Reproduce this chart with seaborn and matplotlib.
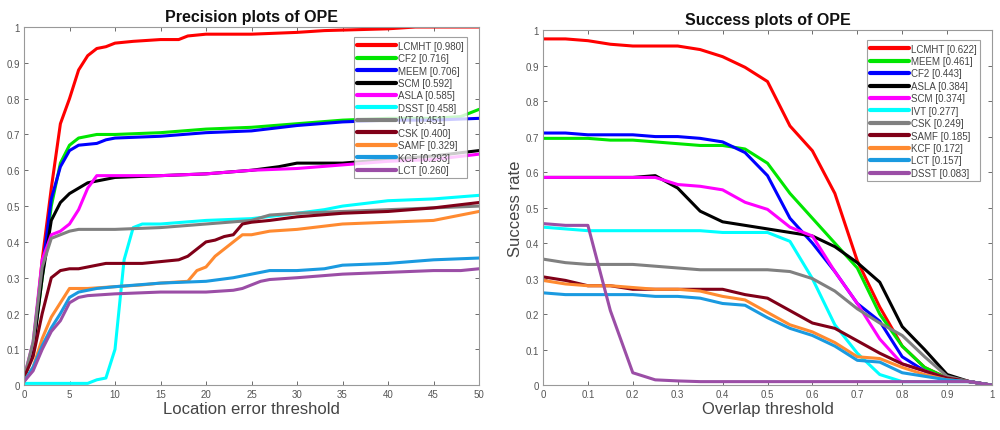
import numpy as np
import pandas as pd
import seaborn as sns
import matplotlib
matplotlib.use("Agg")
import matplotlib.pyplot as plt
from matplotlib.ticker import FuncFormatter

# ---- precision plot data (location error threshold 0..50) ----
prec_names = ["LCMHT", "CF2", "MEEM", "SCM", "ASLA", "DSST", "IVT", "CSK", "SAMF", "KCF", "LCT"]
prec_scores = ["0.980", "0.716", "0.706", "0.592", "0.585", "0.458", "0.451", "0.400", "0.329", "0.293", "0.260"]

prec_x_lcmht = [0, 1, 2, 3, 4, 5, 6, 7, 8, 9, 10, 12, 15, 17, 18, 20, 25, 30, 33, 40, 43, 50]
prec_y_lcmht = [0.02, 0.1, 0.35, 0.55, 0.73, 0.80, 0.88, 0.92, 0.94, 0.945, 0.955, 0.96, 0.965, 0.965, 0.975, 0.98, 0.98, 0.985, 0.99, 0.995, 1.0, 1.0]
prec_x_cf2 = [0, 1, 2, 3, 4, 5, 6, 7, 8, 10, 15, 20, 25, 30, 35, 40, 45, 48, 50]
prec_y_cf2 = [0.02, 0.1, 0.3, 0.5, 0.62, 0.67, 0.69, 0.695, 0.70, 0.70, 0.705, 0.715, 0.72, 0.73, 0.74, 0.745, 0.745, 0.75, 0.77]
prec_x_meem = [0, 1, 2, 3, 4, 5, 6, 8, 9, 10, 15, 20, 25, 30, 35, 40, 45, 50]
prec_y_meem = [0.02, 0.1, 0.32, 0.52, 0.61, 0.655, 0.67, 0.675, 0.685, 0.69, 0.695, 0.705, 0.71, 0.725, 0.735, 0.74, 0.74, 0.745]
prec_x_scm = [0, 1, 2, 3, 4, 5, 6, 7, 8, 9, 10, 15, 20, 25, 28, 30, 35, 40, 45, 50]
prec_y_scm = [0.02, 0.1, 0.3, 0.46, 0.51, 0.535, 0.55, 0.565, 0.57, 0.575, 0.58, 0.585, 0.59, 0.60, 0.61, 0.62, 0.62, 0.63, 0.64, 0.655]
prec_x_asla = [0, 1, 2, 3, 4, 5, 6, 7, 8, 10, 15, 20, 25, 30, 35, 40, 45, 50]
prec_y_asla = [0.02, 0.12, 0.35, 0.42, 0.43, 0.45, 0.49, 0.55, 0.585, 0.585, 0.585, 0.59, 0.60, 0.605, 0.615, 0.625, 0.63, 0.645]
prec_x_dsst = [0, 7, 8, 9, 10, 11, 12, 13, 15, 20, 25, 30, 33, 35, 40, 45, 50]
prec_y_dsst = [0.005, 0.005, 0.015, 0.02, 0.1, 0.35, 0.44, 0.45, 0.45, 0.46, 0.465, 0.48, 0.49, 0.50, 0.515, 0.52, 0.53]
prec_x_ivt = [0, 1, 2, 3, 4, 5, 6, 10, 15, 20, 25, 27, 30, 35, 40, 45, 50]
prec_y_ivt = [0.02, 0.12, 0.33, 0.41, 0.42, 0.43, 0.435, 0.435, 0.44, 0.45, 0.46, 0.475, 0.48, 0.485, 0.49, 0.495, 0.50]
prec_x_csk = [0, 1, 2, 3, 4, 5, 6, 7, 8, 9, 13, 15, 17, 18, 19, 20, 21, 22, 23, 24, 25, 27, 30, 35, 40, 45, 50]
prec_y_csk = [0.02, 0.08, 0.2, 0.3, 0.32, 0.325, 0.325, 0.33, 0.335, 0.34, 0.34, 0.345, 0.35, 0.36, 0.38, 0.40, 0.405, 0.415, 0.42, 0.45, 0.455, 0.46, 0.47, 0.48, 0.485, 0.495, 0.51]
prec_x_samf = [0, 1, 2, 3, 4, 5, 7, 10, 13, 15, 18, 19, 20, 21, 22, 23, 24, 25, 27, 30, 35, 40, 45, 47, 50]
prec_y_samf = [0.01, 0.05, 0.13, 0.19, 0.23, 0.27, 0.27, 0.275, 0.28, 0.285, 0.29, 0.32, 0.33, 0.36, 0.38, 0.40, 0.42, 0.42, 0.43, 0.435, 0.45, 0.455, 0.46, 0.47, 0.485]
prec_x_kcf = [0, 1, 2, 3, 4, 5, 6, 7, 8, 10, 15, 20, 23, 25, 27, 30, 33, 35, 40, 45, 50]
prec_y_kcf = [0.01, 0.05, 0.11, 0.16, 0.2, 0.245, 0.26, 0.265, 0.27, 0.275, 0.285, 0.29, 0.30, 0.31, 0.32, 0.32, 0.325, 0.335, 0.34, 0.35, 0.355]
prec_x_lct = [0, 1, 2, 3, 4, 5, 6, 7, 10, 15, 20, 23, 24, 26, 27, 30, 35, 40, 45, 48, 50]
prec_y_lct = [0.01, 0.04, 0.1, 0.15, 0.18, 0.23, 0.245, 0.25, 0.255, 0.26, 0.26, 0.265, 0.27, 0.29, 0.295, 0.30, 0.31, 0.315, 0.32, 0.32, 0.325]

# ---- success plot data (overlap threshold 0..1) ----
succ_names = ["LCMHT", "MEEM", "CF2", "ASLA", "SCM", "IVT", "CSK", "SAMF", "KCF", "LCT", "DSST"]
succ_scores = ["0.622", "0.461", "0.443", "0.384", "0.374", "0.277", "0.249", "0.185", "0.172", "0.157", "0.083"]

succ_x = [0, 0.05, 0.1, 0.15, 0.2, 0.25, 0.3, 0.35, 0.4, 0.45, 0.5, 0.55, 0.6, 0.65, 0.7, 0.75, 0.8, 0.85, 0.9, 0.95, 1.0]
succ_y_lcmht = [0.975, 0.975, 0.97, 0.96, 0.955, 0.955, 0.955, 0.945, 0.925, 0.895, 0.855, 0.73, 0.66, 0.54, 0.35, 0.22, 0.11, 0.05, 0.02, 0.01, 0.0]
succ_y_meem = [0.695, 0.695, 0.695, 0.69, 0.69, 0.685, 0.68, 0.675, 0.675, 0.665, 0.625, 0.54, 0.47, 0.40, 0.33, 0.20, 0.11, 0.05, 0.02, 0.01, 0.0]
succ_y_cf2 = [0.71, 0.71, 0.705, 0.705, 0.705, 0.70, 0.70, 0.695, 0.685, 0.655, 0.59, 0.47, 0.40, 0.32, 0.23, 0.18, 0.08, 0.04, 0.015, 0.01, 0.0]
succ_y_asla = [0.585, 0.585, 0.585, 0.585, 0.585, 0.59, 0.555, 0.49, 0.46, 0.45, 0.44, 0.43, 0.42, 0.39, 0.345, 0.29, 0.165, 0.10, 0.03, 0.01, 0.0]
succ_y_scm = [0.585, 0.585, 0.585, 0.585, 0.585, 0.585, 0.565, 0.56, 0.55, 0.515, 0.495, 0.445, 0.42, 0.32, 0.23, 0.13, 0.06, 0.04, 0.02, 0.01, 0.0]
succ_y_ivt = [0.445, 0.44, 0.435, 0.435, 0.435, 0.435, 0.435, 0.435, 0.43, 0.43, 0.43, 0.405, 0.30, 0.17, 0.09, 0.03, 0.01, 0.01, 0.01, 0.01, 0.0]
succ_y_csk = [0.355, 0.345, 0.34, 0.34, 0.34, 0.335, 0.33, 0.325, 0.325, 0.325, 0.325, 0.32, 0.30, 0.265, 0.215, 0.175, 0.14, 0.08, 0.025, 0.01, 0.0]
succ_y_samf = [0.305, 0.295, 0.28, 0.28, 0.27, 0.27, 0.27, 0.27, 0.27, 0.255, 0.245, 0.21, 0.175, 0.16, 0.125, 0.09, 0.06, 0.04, 0.02, 0.01, 0.0]
succ_y_kcf = [0.295, 0.285, 0.28, 0.28, 0.275, 0.27, 0.27, 0.265, 0.25, 0.24, 0.205, 0.17, 0.15, 0.12, 0.08, 0.075, 0.05, 0.03, 0.015, 0.01, 0.0]
succ_y_lct = [0.26, 0.255, 0.255, 0.255, 0.255, 0.25, 0.25, 0.245, 0.23, 0.225, 0.19, 0.16, 0.14, 0.11, 0.07, 0.065, 0.035, 0.025, 0.015, 0.01, 0.0]
succ_y_dsst = [0.455, 0.45, 0.45, 0.21, 0.035, 0.015, 0.012, 0.01, 0.01, 0.01, 0.01, 0.01, 0.01, 0.01, 0.01, 0.01, 0.01, 0.01, 0.01, 0.01, 0.0]

# colours by legend rank (same in both panels)
rank_colors = ["#ff0000", "#00e600", "#0000ff", "#000000", "#ff00ff", "#00ffff",
               "#808080", "#800018", "#ff8a30", "#1a9ae0", "#9b4ea6"]

prec_xs = [prec_x_lcmht, prec_x_cf2, prec_x_meem, prec_x_scm, prec_x_asla, prec_x_dsst,
           prec_x_ivt, prec_x_csk, prec_x_samf, prec_x_kcf, prec_x_lct]
prec_ys = [prec_y_lcmht, prec_y_cf2, prec_y_meem, prec_y_scm, prec_y_asla, prec_y_dsst,
           prec_y_ivt, prec_y_csk, prec_y_samf, prec_y_kcf, prec_y_lct]
succ_ys = [succ_y_lcmht, succ_y_meem, succ_y_cf2, succ_y_asla, succ_y_scm, succ_y_ivt,
           succ_y_csk, succ_y_samf, succ_y_kcf, succ_y_lct, succ_y_dsst]

rows = []
for n, s, xs, ys in zip(prec_names, prec_scores, prec_xs, prec_ys):
    for x, y in zip(xs, ys):
        rows.append((f"{n} [{s}]", x, y))
df_prec = pd.DataFrame(rows, columns=["tracker", "thr", "rate"])
rows = []
for n, s, ys in zip(succ_names, succ_scores, succ_ys):
    for x, y in zip(succ_x, ys):
        rows.append((f"{n} [{s}]", x, y))
df_succ = pd.DataFrame(rows, columns=["tracker", "thr", "rate"])

prec_order = [f"{n} [{s}]" for n, s in zip(prec_names, prec_scores)]
succ_order = [f"{n} [{s}]" for n, s in zip(succ_names, succ_scores)]

sns.set_style("white")
plt.rcParams["font.family"] = ["Liberation Sans", "DejaVu Sans"]

fig = plt.figure(figsize=(10, 4.31), dpi=100)
ax1 = fig.add_axes([0.024, 0.104, 0.455, 0.831])
ax2 = fig.add_axes([0.543, 0.104, 0.449, 0.824])

def style_axes(ax, title, xlabel, ylabel, xticks):
    ax.set_title(title, fontsize=11.5, fontweight="bold", pad=4, color="#111111")
    ax.set_xlabel(xlabel, fontsize=12, color="#444444", labelpad=1)
    ax.set_ylabel(ylabel, fontsize=12, color="#444444", labelpad=2)
    ax.set_ylim(0, 1)
    ax.set_xlim(xticks[0], xticks[-1])
    ax.set_xticks(xticks)
    ax.set_yticks(np.arange(0, 1.01, 0.1))
    fmt = FuncFormatter(lambda v, p: f"{v:g}")
    ax.xaxis.set_major_formatter(fmt)
    ax.yaxis.set_major_formatter(fmt)
    ax.tick_params(direction="in", length=3, width=0.6, labelsize=7, colors="#555555",
                   top=True, right=True, bottom=True, left=True, pad=3)
    for sp in ax.spines.values():
        sp.set_color("#999999")
        sp.set_linewidth(0.8)
    leg = ax.legend(loc="upper right", fontsize=7, handlelength=4.0, handletextpad=0.2,
                    labelspacing=0.25, borderpad=0.35, fancybox=False, frameon=True,
                    bbox_to_anchor=(0.985, 0.985))
    leg.get_frame().set_edgecolor("#888888")
    leg.get_frame().set_linewidth(0.8)
    for t in leg.get_texts():
        t.set_color("#444444")
    for h in leg.get_lines():
        h.set_linewidth(3.0)

sns.lineplot(data=df_prec, x="thr", y="rate", hue="tracker", hue_order=prec_order,
             palette=dict(zip(prec_order, rank_colors)), estimator=None, sort=False,
             linewidth=2.2, ax=ax1)
style_axes(ax1, "Precision plots of OPE", "Location error threshold", "", list(range(0, 51, 5)))

sns.lineplot(data=df_succ, x="thr", y="rate", hue="tracker", hue_order=succ_order,
             palette=dict(zip(succ_order, rank_colors)), estimator=None, sort=False,
             linewidth=2.2, ax=ax2)
style_axes(ax2, "Success plots of OPE", "Overlap threshold", "Success rate",
           [round(v, 1) for v in np.arange(0, 1.01, 0.1)])

fig.savefig("out.png", dpi=100)
